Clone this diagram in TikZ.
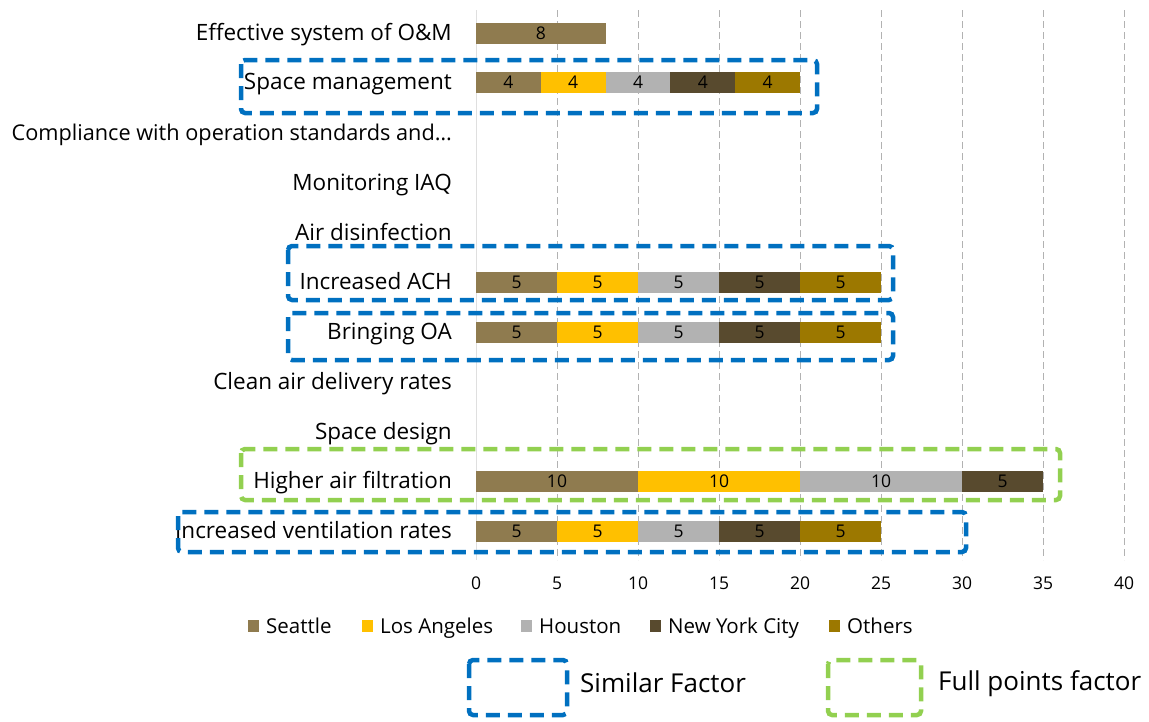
\documentclass[tikz,border=0pt]{standalone}
\usepackage{fontspec}
\setmainfont{Open Sans}
\definecolor{seattle}{HTML}{8F7B4F}
\definecolor{losangeles}{HTML}{FFC000}
\definecolor{houston}{HTML}{B2B2B2}
\definecolor{newyork}{HTML}{584A2E}
\definecolor{others}{HTML}{9C7800}
\definecolor{simblue}{HTML}{0070C0}
\definecolor{fullgreen}{HTML}{92D050}
\tikzset{
  rowlabel/.style={anchor=base east, inner sep=0pt, font=\fontsize{22.5}{26}\selectfont},
  barval/.style={inner sep=0pt, text=black, font=\fontsize{17.5}{20}\selectfont},
  ticklabel/.style={inner sep=0pt, font=\fontsize{17.5}{20}\selectfont},
  legtext/.style={anchor=base west, inner sep=0pt, font=\fontsize{20.5}{24}\selectfont},
  gridline/.style={draw=gray!60, line width=0.9pt, dash pattern=on 7pt off 4pt},
  simbox/.style={draw=simblue, line width=4.5pt, dash pattern=on 14pt off 8pt, rounded corners=4pt},
  fullbox/.style={draw=fullgreen, line width=4.5pt, dash pattern=on 14pt off 8pt, rounded corners=4pt},
}

\begin{document}
\begin{tikzpicture}[x=1pt,y=-1pt]
    \useasboundingbox (0,0) rectangle (1149,721);

    % category labels
    \node[rowlabel] (effective) at (452,40)  {Effective system of O\&M};
    \node[rowlabel] (spacemgmt) at (452,89)  {Space management};
    \node[rowlabel, font=\fontsize{21.7}{26}\selectfont] (compliance) at (452,140) {Compliance with operation standards and\dots};
    \node[rowlabel] (monitoring) at (452,190) {Monitoring IAQ};
    \node[rowlabel] (disinfect) at (452,240) {Air disinfection};
    \node[rowlabel] (ach) at (452,289) {Increased ACH};
    \node[rowlabel] (bringoa) at (452,339) {Bringing OA};
    \node[rowlabel] (cadr) at (452,389) {Clean air delivery rates};
    \node[rowlabel] (spacedesign) at (452,439) {Space design};
    \node[rowlabel] (filtration) at (452,488) {Higher air filtration};
    \node[rowlabel] (ventilation) at (452,538) {Increased ventilation rates};

    \begin{scope}[shift={(476,0)}, x=16.2pt]
        % grid and axis
        \draw[draw=gray!25, line width=0.9pt] (0,10) -- (0,560);
        \foreach \v in {5,10,...,40}
            \draw[gridline] (\v,10) -- (\v,560);
        \foreach \v in {0,5,...,40}
            \node[ticklabel] (tick\v) at (\v,583) {\v};

        % bars
        \fill[seattle] (0,22.5) rectangle (8,43.5) node[barval,pos=.5] (eff1) {8};
        \foreach \s/\c [count=\i] in {0/seattle,4/losangeles,8/houston,12/newyork,16/others}
            \fill[\c] (\s,71.5) rectangle (\s+4,92.5) node[barval,pos=.5] (spm\i) {4};
        \foreach \y/\n in {282/ach,332/boa,531/ven}
            \foreach \s/\c [count=\i] in {0/seattle,5/losangeles,10/houston,15/newyork,20/others}
                \fill[\c] (\s,\y-10.5) rectangle (\s+5,\y+10.5) node[barval,pos=.5] (\n\i) {5};
        \foreach \s/\e/\c/\v [count=\i] in {0/10/seattle/10,10/20/losangeles/10,20/30/houston/10,30/35/newyork/5}
            \fill[\c] (\s,470.5) rectangle (\e,491.5) node[barval,pos=.5] (hf\i) {\v};
    \end{scope}

    % highlight frames
    \draw[simbox] (241,60) rectangle (817,113);
    \draw[simbox] (288,246) rectangle (893,300);
    \draw[simbox] (288,313) rectangle (893,360);
    \draw[fullbox] (241,449) rectangle (1060,500);
    \draw[simbox] (178,512) rectangle (966,552);

    % series legend
    \foreach \x/\c/\t [count=\i] in {248/seattle/Seattle,362/losangeles/Los Angeles,521/houston/Houston,650/newyork/New York City,829/others/Others}{
        \fill[\c] (\x,620) rectangle (\x+11,632);
        \node[legtext] (leg\i) at (\x+18,633) {\t};
    }

    % frame legend
    \draw[simbox] (469,660) rectangle (567,715);
    \node[legtext, font=\fontsize{26}{30}\selectfont] (similar) at (580,692) {Similar Factor};
    \draw[fullbox] (828,660) rectangle (921,715);
    \node[legtext, font=\fontsize{26}{30}\selectfont] (fullpoints) at (938,690) {Full points factor};
\end{tikzpicture}
\end{document}
